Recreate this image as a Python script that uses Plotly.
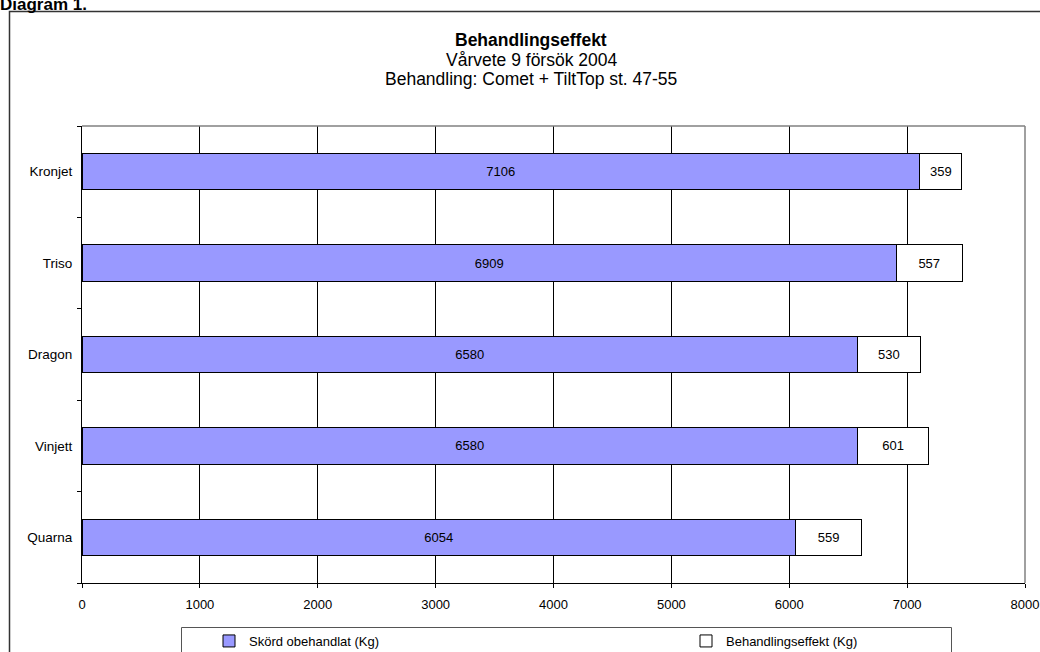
import plotly.graph_objects as go

categories = ["Kronjet", "Triso", "Dragon", "Vinjett", "Quarna"]
skord_obehandlat = [7106, 6909, 6580, 6580, 6054]
behandlingseffekt = [359, 557, 530, 601, 559]
x_ticks = [0, 1000, 2000, 3000, 4000, 5000, 6000, 7000, 8000]

FONT = "Arial, Liberation Sans, sans-serif"
W, H = 1040, 652
L, R, T, B = 82, 1025, 126, 583
PW, PH = R - L, B - T


def px(X):
    return (X - L) / PW


def py(Y):
    return (B - Y) / PH


fig = go.Figure()
fig.add_trace(go.Bar(
    y=categories, x=skord_obehandlat, orientation="h",
    name="Skörd obehandlat (Kg)", legend="legend",
    marker=dict(color="#9999FF", line=dict(color="black", width=1)),
    text=[str(v) for v in skord_obehandlat], textposition="inside",
    insidetextanchor="middle", textangle=0,
    textfont=dict(color="black", size=13, family=FONT),
))
fig.add_trace(go.Bar(
    y=categories, x=behandlingseffekt, orientation="h",
    name="Behandlingseffekt (Kg)", legend="legend2",
    marker=dict(color="white", line=dict(color="black", width=1)),
    text=[str(v) for v in behandlingseffekt], textposition="inside",
    insidetextanchor="middle", textangle=0,
    textfont=dict(color="black", size=13, family=FONT),
))

legend_common = dict(
    orientation="h", yanchor="middle", xanchor="left",
    font=dict(size=13, family=FONT), bgcolor="rgba(0,0,0,0)",
    itemwidth=30, borderwidth=0,
)

fig.update_layout(
    width=W, height=H,
    margin=dict(l=L, r=W - R, t=T, b=H - B, pad=0, autoexpand=False),
    paper_bgcolor="white", plot_bgcolor="white",
    barmode="stack", bargap=0.6,
    font=dict(family=FONT, size=13, color="black"),
    uniformtext=dict(minsize=13, mode="show"),
    showlegend=True,
    title=dict(text="<b>Diagram 1.</b>", x=0, xanchor="left", xref="container",
               y=1 - 4 / H, yanchor="middle", yref="container",
               font=dict(size=17, family=FONT, color="black")),
    legend=dict(x=px(209), y=py(641), **legend_common),
    legend2=dict(x=px(686), y=py(641), **legend_common),
    xaxis=dict(
        range=[0, 8000], tickvals=x_ticks, ticktext=[str(v) for v in x_ticks],
        showgrid=True, gridcolor="black", gridwidth=1,
        showline=True, linecolor="black", linewidth=1,
        ticks="outside", ticklen=4, tickcolor="black",
        ticklabelstandoff=5, zeroline=False, fixedrange=True,
        tickfont=dict(size=13), automargin=False,
    ),
    yaxis=dict(
        categoryorder="array", categoryarray=categories[::-1],
        showgrid=False, showline=True, linecolor="black", linewidth=1,
        ticks="outside", ticklen=4, tickcolor="black", tickson="boundaries",
        ticklabelstandoff=6, fixedrange=True, tickfont=dict(size=13.5),
        automargin=False,
    ),
)

shapes = [
    dict(type="line", xref="paper", yref="paper", x0=0, x1=1, y0=1, y1=1,
         line=dict(color="#808080", width=1.5), layer="above"),
    dict(type="line", xref="paper", yref="paper", x0=1, x1=1, y0=0, y1=1,
         line=dict(color="#808080", width=1.5), layer="above"),
    dict(type="rect", xref="paper", yref="paper", x0=px(9.5), x1=px(1060),
         y0=py(670), y1=py(11.5), line=dict(color="#333333", width=1.5),
         layer="below"),
    dict(type="rect", xref="paper", yref="paper", x0=px(181.5), x1=px(951.5),
         y0=py(670), y1=py(627.5), line=dict(color="#555555", width=1),
         layer="below"),
]
fig.update_layout(shapes=shapes)

annotations = [
    dict(text="<b>Behandlingseffekt</b>", xref="paper", yref="paper", x=px(531),
         y=py(40), xanchor="center", yanchor="middle", showarrow=False,
         font=dict(size=17.5, family=FONT)),
    dict(text="Vårvete 9 försök 2004", xref="paper", yref="paper", x=px(531),
         y=py(60), xanchor="center", yanchor="middle", showarrow=False,
         font=dict(size=17.5, family=FONT)),
    dict(text="Behandling: Comet + TiltTop st. 47-55", xref="paper", yref="paper",
         x=px(531), y=py(79), xanchor="center", yanchor="middle", showarrow=False,
         font=dict(size=17.5, family=FONT)),
]
fig.update_layout(annotations=annotations)

fig.write_html(
    "out.html",
    config={"displayModeBar": False},
    post_script="document.body.style.margin='0';document.body.style.overflow='hidden';",
)
